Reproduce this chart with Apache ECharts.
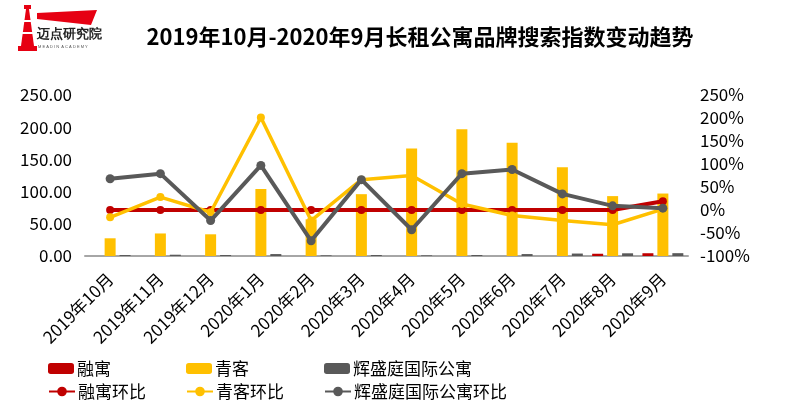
<!DOCTYPE html>
<html>
<head>
<meta charset="utf-8">
<script src="https://cdn.jsdelivr.net/npm/echarts@6/dist/echarts.min.js"></script>
<style>html,body{margin:0;padding:0;background:#fff;}#c{width:800px;height:420px;}</style>
</head>
<body>
<div id="c"></div>
<script>
var categories = ['2019年10月','2019年11月','2019年12月','2020年1月','2020年2月','2020年3月','2020年4月','2020年5月','2020年6月','2020年7月','2020年8月','2020年9月'];
var rongyu = [0,0,0,0,0,0,0,0,0,0,3.5,4.3];
var qingke = [27.5,35,33.7,104,57,96,167,197,176,138,93,97];
var huisheng = [1.5,2.0,1.6,3.0,1.0,1.6,1.0,1.6,3.0,3.8,4.2,4.4];
var rongyuMoM = [0,0,0,0,0,0,0,0,0,0,0,19];
var qingkeMoM = [-16,28,-5,201,-23,66,75,13,-12,-23,-32,2];
var huishengMoM = [68,79,-23,97,-67,66,-43,79,88,35,9,4];
var leftTicks = [0,50,100,150,200,250];
var rightTicks = [-100,-50,0,50,100,150,200,250];

var RED = '#c00000', YEL = '#ffc000', GRY = '#595959';
var FONT = '"Noto Sans CJK SC", "Noto Sans", sans-serif';
var chart = echarts.init(document.getElementById('c'));

function lg(name, left, top, isLine) {
  return {
    data: [name], left: left, top: top, orient: 'horizontal',
    itemWidth: 26, itemHeight: isLine ? 12 : 11, itemGap: 0, padding: 0,
    textStyle: {fontSize: 17, color: '#000', fontFamily: FONT, padding: [0,0,0,-2]},
    selectedMode: true
  };
}

var option = {
  backgroundColor: '#fff',
  animation: false,
  textStyle: {fontFamily: FONT},
  title: {
    text: '2019年10月-2020年9月长租公寓品牌搜索指数变动趋势',
    left: 415, top: 21, textAlign: 'center',
    textStyle: {fontSize: 22, fontWeight: 'bold', color: '#000', fontFamily: FONT}
  },
  legend: [
    lg('融寓', 48, 360, false),
    lg('青客', 186, 360, false),
    lg('辉盛庭国际公寓', 324, 360, false),
    lg('融寓环比', 48, 383, true),
    lg('青客环比', 186, 383, true),
    lg('辉盛庭国际公寓环比', 324, 383, true)
  ],
  grid: {left: 85, right: 112, top: 95, bottom: 164, containLabel: false},
  xAxis: {
    type: 'category', data: categories,
    axisLine: {lineStyle: {color: '#a6a6a6', width: 2}},
    axisTick: {show: false},
    axisLabel: {rotate: 45, fontSize: 17, color: '#000', margin: 20, interval: 0, fontFamily: FONT}
  },
  yAxis: [
    {
      type: 'value', min: leftTicks[0], max: leftTicks[leftTicks.length-1], interval: 50,
      splitLine: {show: false}, axisLine: {show: false}, axisTick: {show: false},
      axisLabel: {fontSize: 17, color: '#000', margin: 13, formatter: function(v){return v.toFixed(2);}, fontFamily: FONT}
    },
    {
      type: 'value', min: rightTicks[0], max: rightTicks[rightTicks.length-1], interval: 50,
      splitLine: {show: false}, axisLine: {show: false}, axisTick: {show: false},
      axisLabel: {fontSize: 17, color: '#000', margin: 12, formatter: '{value}%', fontFamily: FONT}
    }
  ],
  series: [
    {name: '融寓', type: 'bar', data: rongyu, barWidth: 11, barGap: '36%', itemStyle: {color: RED}},
    {name: '青客', type: 'bar', data: qingke, barWidth: 11, barGap: '36%', itemStyle: {color: YEL}},
    {name: '辉盛庭国际公寓', type: 'bar', data: huisheng, barWidth: 11, barGap: '36%', itemStyle: {color: GRY}},
    {name: '融寓环比', type: 'line', yAxisIndex: 1, data: rongyuMoM, symbol: 'circle', symbolSize: 8,
      lineStyle: {color: RED, width: 4}, itemStyle: {color: RED}, z: 3},
    {name: '青客环比', type: 'line', yAxisIndex: 1, data: qingkeMoM, symbol: 'circle', symbolSize: 8,
      lineStyle: {color: YEL, width: 3.5}, itemStyle: {color: YEL}, z: 4},
    {name: '辉盛庭国际公寓环比', type: 'line', yAxisIndex: 1, data: huishengMoM, symbol: 'circle', symbolSize: 9,
      lineStyle: {color: GRY, width: 4}, itemStyle: {color: GRY}, z: 5}
  ],
  graphic: [
    {type: 'polygon', shape: {points: [[26,9],[29,9],[34,46],[21,46]]}, style: {fill: '#e60012'}},
    {type: 'rect', shape: {x: 24, y: 5, width: 7, height: 4}, style: {fill: '#e60012'}},
    {type: 'rect', shape: {x: 18, y: 46, width: 19, height: 5}, style: {fill: '#e60012'}},
    {type: 'rect', shape: {x: 22, y: 20, width: 11, height: 2}, style: {fill: '#fff'}},
    {type: 'rect', shape: {x: 21, y: 32, width: 13, height: 2}, style: {fill: '#fff'}},
    {type: 'polygon', shape: {points: [[37,13],[97,10],[91,25],[37,19]]}, style: {fill: '#e60012'}},
    {type: 'text', left: 37, top: 28, style: {text: '迈点研究院', fontSize: 13, fontWeight: 'bold', fill: '#222', font: 'bold 13px "Noto Sans CJK SC"'}},
    {type: 'text', left: 38, top: 45, style: {text: 'M E A D I N  A C A D E M Y', fontSize: 4, fill: '#555'}}
  ]
};
chart.setOption(option);
</script>
</body>
</html>
